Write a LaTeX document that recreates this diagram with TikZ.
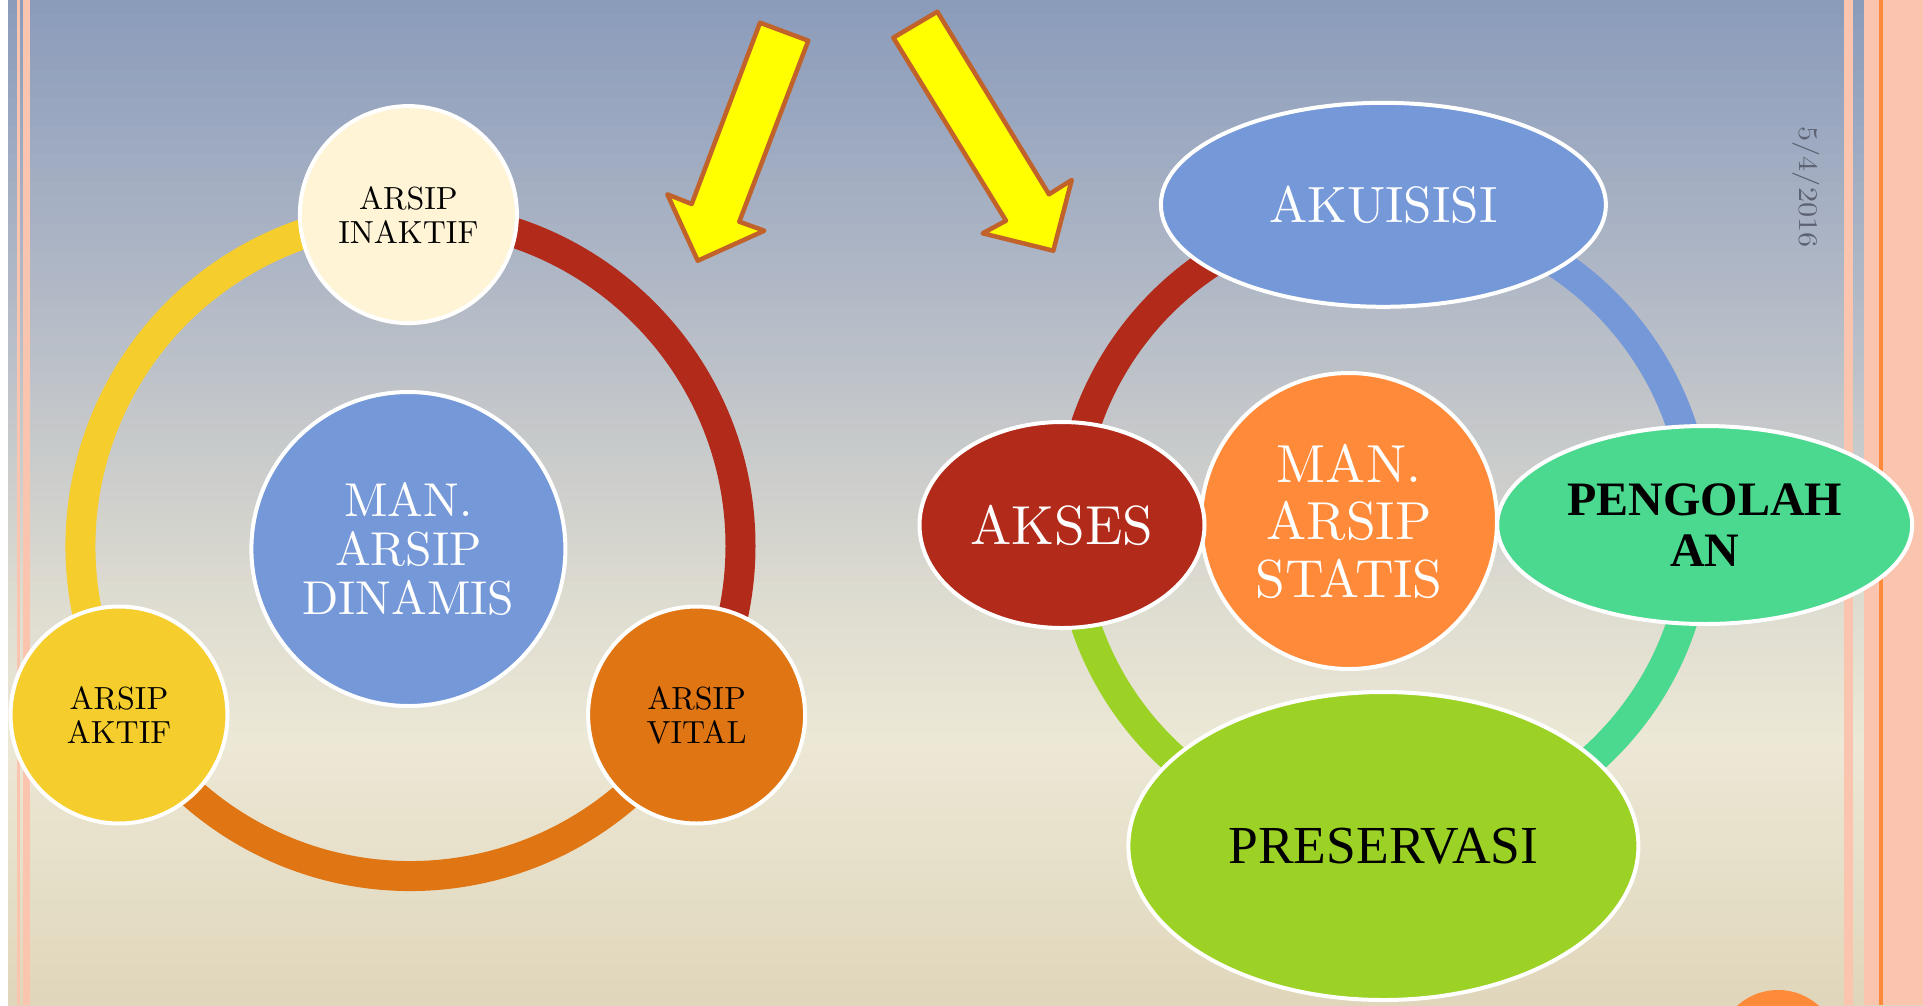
\documentclass[tikz,border=0pt]{standalone}
\usepackage{fontspec}
\setmainfont{lmroman10-regular}[Extension=.otf, BoldFont=lmroman10-bold]
\newfontfamily\tnr{Liberation Serif}
\usetikzlibrary{shapes.geometric}
\definecolor{bgc0}{RGB}{138,155,187}
\definecolor{bgc1}{RGB}{176,184,198}
\definecolor{bgc2}{RGB}{196,199,202}
\definecolor{bgc3}{RGB}{222,220,208}
\definecolor{bgc4}{RGB}{236,232,214}
\definecolor{bgc5}{RGB}{224,214,186}
\definecolor{pinkst}{RGB}{250,196,174}
\definecolor{orangest}{RGB}{255,138,58}
\definecolor{darkred}{RGB}{178,42,26}
\definecolor{gold}{RGB}{245,205,44}
\definecolor{darkorange}{RGB}{224,117,20}
\definecolor{cream}{RGB}{255,244,214}
\definecolor{blueish}{RGB}{117,152,216}
\definecolor{lorange}{RGB}{255,138,58}
\definecolor{mint}{RGB}{75,216,143}
\definecolor{lime}{RGB}{156,210,37}
\definecolor{arrowyel}{RGB}{255,255,0}
\definecolor{arrowbrd}{RGB}{192,98,42}
\definecolor{dategray}{RGB}{92,98,114}
\newcommand\bgband[4]{%
  \foreach \k in {0,...,19}{%
    \pgfmathsetmacro\ya{#1+(#2-#1)*\k/20}%
    \pgfmathsetmacro\yb{#1+(#2-#1)*(\k+1)/20+0.8}%
    \pgfmathsetmacro\pp{100-\k*5-2.5}%
    \fill[#3!\pp!#4] (8,\ya) rectangle (1923,\yb);
  }%
}
\begin{document}
\begin{tikzpicture}[x=1pt,y=-1pt,
  bub/.style={draw=white, line width=4, inner sep=0pt, align=center},
  smallc/.style={bub, circle, minimum size=217, font=\fontsize{32}{34}\selectfont, text=black},
  ringseg/.style={line width=30},
  bigarrow/.style={fill=arrowyel, draw=arrowbrd, line width=4.5, line join=round}]
\useasboundingbox (0,0) rectangle (1923,1005);
\fill[white] (0,0) rectangle (1923,1005);
% background gradient
\bgband{0}{280}{bgc0}{bgc1}
\bgband{280}{420}{bgc1}{bgc2}
\bgband{420}{600}{bgc2}{bgc3}
\bgband{600}{740}{bgc3}{bgc4}
\bgband{740}{1005}{bgc4}{bgc5}
% side stripes
\fill[pinkst] (17,0) rectangle (20,1005);
\fill[pinkst] (23,0) rectangle (30,1005);
\fill[pinkst] (1844,0) rectangle (1853,1005);
\fill[pinkst] (1864,0) rectangle (1923,1005);
\fill[orangest] (1879,0) rectangle (1882.5,1005);
% date
\node[rotate=-90, text=dategray, font=\fontsize{27}{27}\selectfont, inner sep=0pt] (date) at (1806.7,187) {\scalebox{1.12}[1]{5/4/2016}};
% bottom-right circle
\fill[lorange] (1778,1051) circle[radius=61];
% arrows
\draw[bigarrow] (760,22.7) -- (808.3,40.7) -- (739.3,221.7) -- (764.3,230.7) -- (697.7,260.7) -- (667.3,194.3) -- (691.7,204) -- cycle;
\draw[bigarrow] (893.3,37.7) -- (937.3,11.7) -- (1049,194.3) -- (1071.7,180) -- (1053.3,250.7) -- (982.7,233.3) -- (1006,220.7) -- cycle;
% left ring
\coordinate (L) at (410.5,546);
\draw[ringseg, darkred] (L) ++(-90:330) arc[start angle=-90, end angle=30, radius=330];
\draw[ringseg, darkorange] (L) ++(30:330) arc[start angle=30, end angle=150, radius=330];
\draw[ringseg, gold] (L) ++(150:330) arc[start angle=150, end angle=270, radius=330];
% left nodes
\node[smallc, fill=cream] (inaktif) at (408.4,214.6) {ARSIP\\INAKTIF};
\node[smallc, fill=gold] (aktif) at (119,715) {ARSIP\\AKTIF};
\node[smallc, fill=darkorange] (vital) at (696.6,715) {ARSIP\\VITAL};
\node[bub, circle, minimum size=314, fill=blueish, text=white, font=\fontsize{47.5}{49}\selectfont] (dinamis) at (408.4,549) {MAN.\\ARSIP\\DINAMIS};
% right ring
\coordinate (R) at (1383.4,525);
\draw[ringseg, blueish] (R) ++(-90:314) arc[start angle=-90, end angle=0, radius=314];
\draw[ringseg, mint] (R) ++(0:314) arc[start angle=0, end angle=90, radius=314];
\draw[ringseg, lime] (R) ++(90:314) arc[start angle=90, end angle=180, radius=314];
\draw[ringseg, darkred] (R) ++(180:314) arc[start angle=180, end angle=270, radius=314];
% right nodes
\node[bub, circle, minimum size=296, fill=lorange, text=white, font=\fontsize{53.5}{57.5}\selectfont] (statis) at (1349,521) {MAN.\\ARSIP\\STATIS};
\node[bub, ellipse, minimum width=445, minimum height=204, fill=blueish, text=white, font=\fontsize{51}{51}\selectfont] (akuisisi) at (1383.4,204.8) {AKUISISI};
\node[bub, ellipse, minimum width=285, minimum height=206, fill=darkred, text=white, font=\fontsize{55}{55}\selectfont] (akses) at (1062,525) {AKSES};
\node[bub, ellipse, minimum width=415, minimum height=198, fill=mint, text=black, font=\tnr\bfseries\fontsize{48}{50.7}\selectfont] (pengolahan) at (1704.7,525) {PENGOLAH\\AN};
\node[bub, ellipse, minimum width=510, minimum height=308, fill=lime, text=black, font=\tnr\fontsize{53.5}{53.5}\selectfont] (preservasi) at (1383.4,846) {PRESERVASI};
\end{tikzpicture}
\end{document}
